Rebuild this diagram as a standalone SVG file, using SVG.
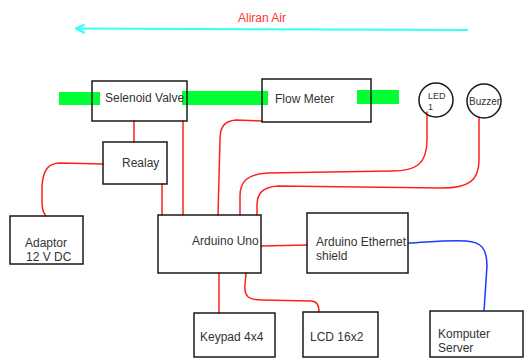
<svg xmlns="http://www.w3.org/2000/svg" width="524" height="358" viewBox="0 0 524 358">
<style>
.box{fill:none;stroke:#1a1a1a;stroke-width:1.5}
.t{font-family:"Liberation Sans",Arial,sans-serif;font-size:12px;fill:#333}
.w{fill:none;stroke:#ff1f1f;stroke-width:1.5;stroke-linecap:round}
.g{fill:#00ff33}
</style>
<rect width="524" height="358" fill="#fff"/>
<g id="flow">
<path d="M468,30 L76,28.5" fill="none" stroke="#33ffff" stroke-width="2"/>
<path d="M84,25 L76,28.5 L84,32.5" fill="none" stroke="#33ffff" stroke-width="2" stroke-linecap="round" stroke-linejoin="round"/>
<text x="238" y="22" class="t" style="fill:#ff3333">Aliran Air</text>
</g>
<g id="pipes">
<rect class="g" x="59" y="92" width="41" height="13"/>
<rect class="g" x="182" y="91" width="86" height="14"/>
<rect class="g" x="357" y="90" width="42" height="14"/>
</g>
<g id="connectors">
<path class="w" d="M134,121 L134,142"/>
<path class="w" d="M183,121 L183,215"/>
<path class="w" d="M162,184 L162,215"/>
<path class="w" d="M103,164 L60,163 C47,163 43,172 42,186 L42,202 C42,210 44,214 46,216"/>
<path class="w" d="M262,121 L236,120 C224,121 220,127 220,140 L218,215"/>
<path class="w" d="M427,112 L427,140 C427,164 416,171 392,171 L268,173 C248,174 240,181 240,196 L240,215"/>
<path class="w" d="M479,118 L479,160 C479,181 468,188 442,188 L278,186 C263,187 257,193 257,205 L257,215"/>
<path class="w" d="M261,246 L307,245"/>
<path class="w" d="M219,273 L219,313"/>
<path class="w" d="M246,273 L245,285 C244,297 249,300 262,300 L311,301 C317,301 319,305 319,312"/>
<path d="M408,243 C430,242 446,240 466,241 C481,242 487,248 487,266 L484,311" fill="none" stroke="#1a3cff" stroke-width="1.5"/>
</g>
<g id="selenoid">
<rect class="box" x="92" y="81" width="95" height="40"/>
<text x="105" y="102" class="t">Selenoid Valve</text>
</g>
<g id="flowmeter">
<rect class="box" x="262" y="79" width="109" height="43"/>
<text x="275" y="103" class="t">Flow Meter</text>
</g>
<g id="led">
<circle cx="436" cy="100" r="17" fill="none" stroke="#1a1a1a" stroke-width="1.5"/>
<text x="428" y="99" class="t" style="font-size:9px">LED</text>
<text x="428" y="110" class="t" style="font-size:9px">1</text>
</g>
<g id="buzzer">
<circle cx="484" cy="101" r="17" fill="none" stroke="#1a1a1a" stroke-width="1.5"/>
<text x="469" y="105" class="t" style="font-size:10px">Buzzer</text>
</g>
<g id="relay">
<rect class="box" x="103" y="142" width="64" height="42"/>
<text x="122" y="167" class="t">Realay</text>
</g>
<g id="adaptor">
<rect class="box" x="10" y="216" width="73" height="48"/>
<text x="25" y="247" class="t">Adaptor</text>
<text x="26" y="261" class="t">12 V DC</text>
</g>
<g id="arduino">
<rect class="box" x="158" y="215" width="103" height="58"/>
<text x="192" y="245" class="t">Arduino Uno</text>
</g>
<g id="ethernet">
<rect class="box" x="307" y="213" width="101" height="60"/>
<text x="316" y="246" class="t">Arduino Ethernet</text>
<text x="316" y="260" class="t">shield</text>
</g>
<g id="keypad">
<rect class="box" x="194" y="313" width="81" height="44"/>
<text x="200" y="341" class="t">Keypad 4x4</text>
</g>
<g id="lcd">
<rect class="box" x="303" y="312" width="75" height="45"/>
<text x="310" y="341" class="t">LCD 16x2</text>
</g>
<g id="server">
<rect class="box" x="430" y="311" width="93" height="46"/>
<text x="438" y="338" class="t">Komputer</text>
<text x="438" y="352" class="t">Server</text>
</g>
</svg>
